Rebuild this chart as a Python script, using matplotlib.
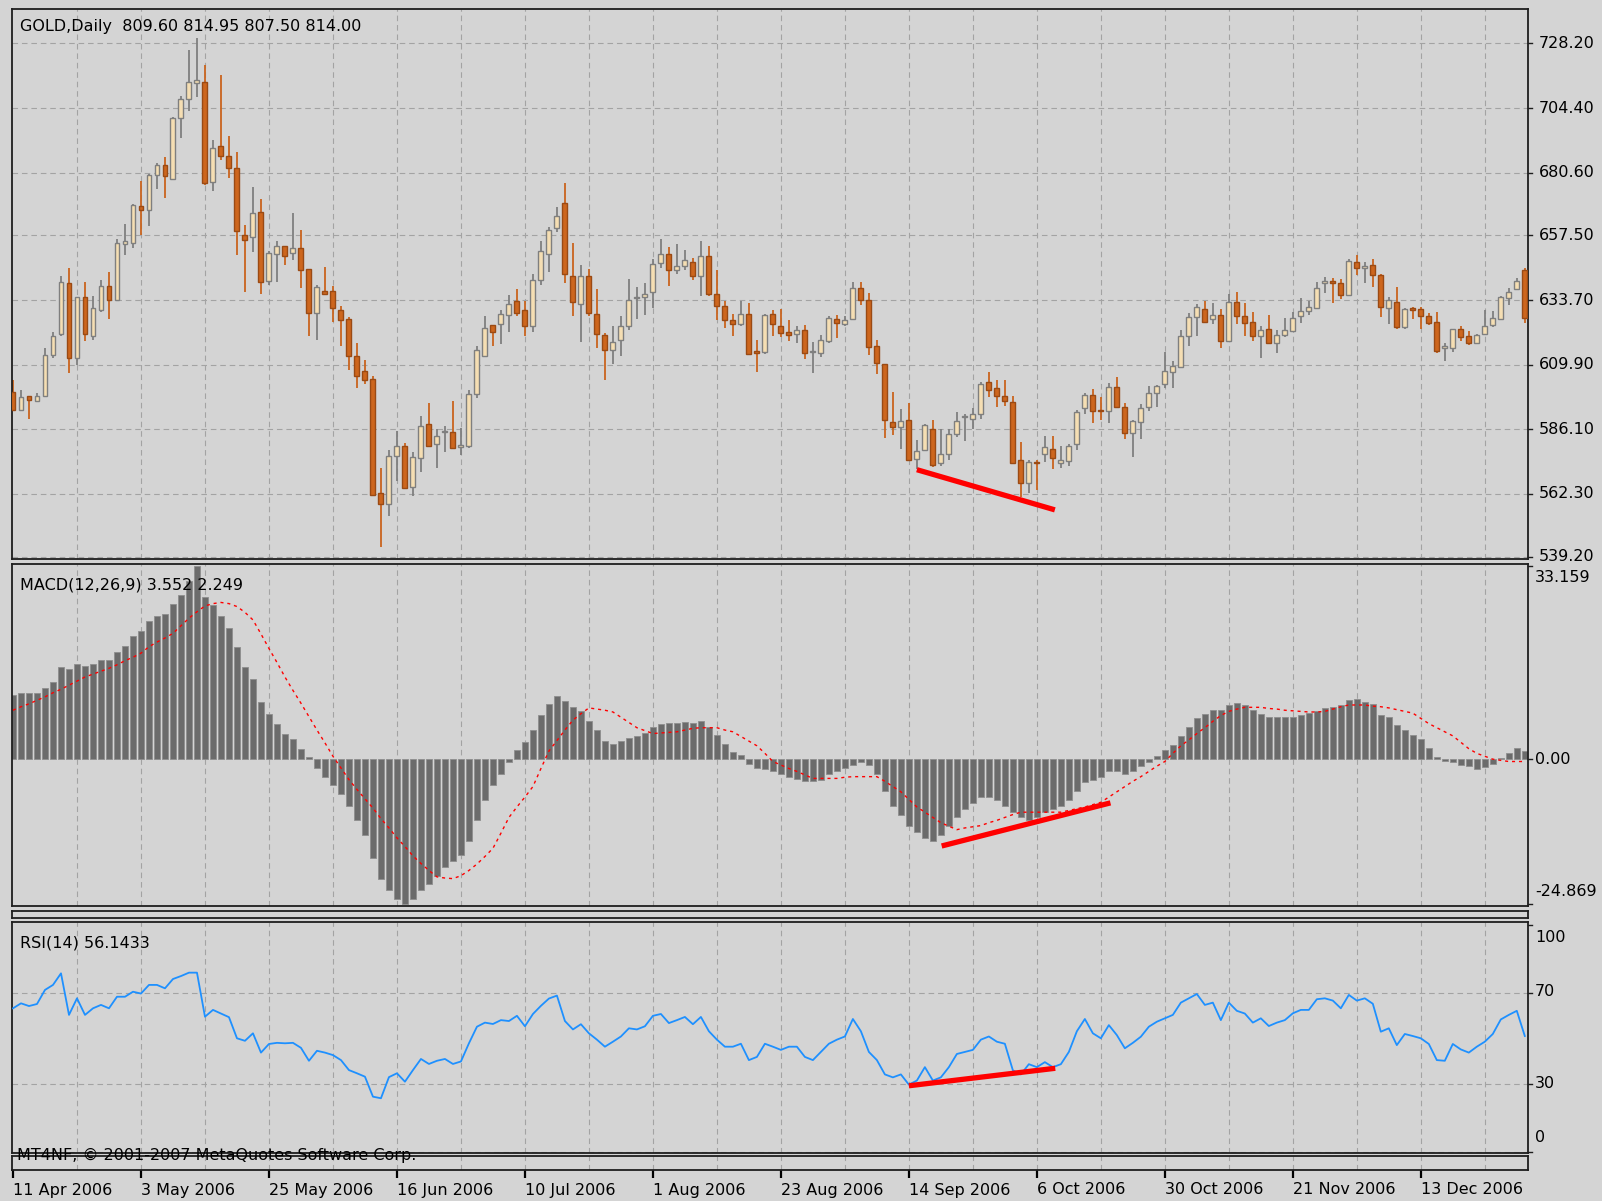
import matplotlib
matplotlib.use("Agg")
import matplotlib.pyplot as plt
from matplotlib.transforms import blended_transform_factory
import numpy as np

plt.rcParams["font.family"] = ["DejaVu Sans"]

# ---------------- data ----------------
opens = [599.9, 593.1, 598.3, 596.6, 598.3, 613.6, 621.1, 639.8, 612.4, 634.8,
         620.5, 630.1, 638.9, 633.6, 654.5, 654.7, 668.5, 666.8, 679.6, 683.4,
         678.4, 700.8, 707.7, 713.7, 714.1, 677.1, 690.5, 686.9, 682.4, 657.5,
         657.0, 666.2, 640.6, 650.7, 653.7, 651.0, 652.8, 645.1, 629.1, 636.9,
         636.9, 630.1, 626.7, 613.2, 607.4, 604.6, 562.6, 558.6, 576.3, 580.0,
         565.0, 575.5, 588.1, 580.6, 584.9, 585.1, 579.7, 579.8, 599.2, 613.2,
         624.4, 625.0, 628.1, 633.2, 630.1, 624.2, 641.2, 650.7, 660.2, 669.4,
         642.6, 632.3, 642.6, 628.6, 620.7, 615.4, 619.1, 624.2, 634.4, 634.9,
         636.5, 647.3, 650.7, 644.9, 646.3, 647.7, 642.6, 650.0, 636.0, 631.6,
         626.4, 625.0, 628.6, 614.8, 614.4, 628.6, 624.1, 622.0, 621.1, 622.6,
         614.5, 614.3, 618.7, 626.6, 624.9, 626.6, 638.0, 633.7, 616.7, 610.1,
         588.8, 587.0, 589.4, 575.2, 578.6, 586.3, 573.5, 577.0, 584.3, 590.5,
         590.0, 591.6, 603.5, 601.4, 598.3, 596.2, 574.7, 566.3, 574.1, 576.8,
         578.8, 573.7, 574.4, 580.7, 593.9, 598.8, 593.3, 592.7, 601.6, 594.3,
         584.6, 588.8, 594.3, 599.4, 602.7, 607.3, 609.2, 620.6, 627.3, 630.4,
         626.8, 628.3, 618.7, 633.1, 627.8, 625.6, 620.4, 623.2, 617.9, 620.9,
         622.4, 627.8, 629.8, 630.6, 639.9, 640.8, 639.9, 635.5, 647.8, 645.4,
         646.6, 642.9, 630.6, 633.1, 623.6, 630.6, 630.3, 627.8, 625.7, 615.9,
         615.9, 622.9, 620.4, 618.0, 621.1, 624.5, 626.6, 634.3, 637.6, 644.8]

highs = [604.3, 600.6, 598.3, 599.3, 616.1, 622.0, 642.5, 645.6, 634.8, 640.4,
         635.2, 641.0, 644.1, 656.0, 661.6, 669.0, 677.5, 680.3, 684.0, 686.2,
         701.1, 708.9, 725.9, 730.1, 720.1, 692.7, 716.6, 694.2, 688.3, 661.2,
         675.3, 670.9, 651.6, 655.5, 653.7, 665.7, 659.6, 645.1, 639.3, 645.7,
         639.0, 631.6, 627.3, 617.8, 611.7, 605.6, 572.0, 578.6, 585.3, 581.0,
         577.6, 591.1, 595.7, 586.2, 587.4, 596.4, 586.5, 600.7, 616.9, 627.7,
         624.4, 630.1, 635.4, 637.9, 633.2, 643.4, 655.3, 660.6, 667.9, 676.8,
         654.7, 646.5, 645.1, 637.7, 621.5, 624.3, 627.7, 641.4, 638.5, 639.9,
         648.8, 656.1, 653.2, 654.4, 652.2, 649.2, 655.3, 653.7, 644.9, 633.2,
         628.6, 633.2, 632.6, 619.1, 628.6, 629.9, 630.3, 626.3, 624.1, 624.5,
         618.3, 620.9, 627.8, 628.2, 627.8, 640.5, 640.5, 636.2, 618.9, 610.1,
         599.9, 593.7, 595.6, 582.0, 587.9, 589.4, 586.3, 586.3, 592.5, 591.6,
         594.1, 603.5, 607.2, 604.4, 604.4, 598.3, 581.4, 574.9, 574.6, 583.7,
         583.7, 580.1, 580.8, 593.3, 599.6, 600.9, 598.1, 603.1, 605.3, 595.8,
         589.5, 595.5, 601.9, 602.5, 614.5, 611.1, 622.7, 628.9, 632.3, 633.2,
         632.6, 630.4, 635.9, 636.8, 632.5, 629.3, 624.1, 628.2, 622.5, 627.2,
         629.4, 634.3, 633.5, 640.5, 642.1, 641.7, 641.3, 648.7, 650.3, 647.6,
         648.7, 643.3, 634.7, 638.4, 630.6, 631.2, 631.2, 629.0, 629.4, 617.9,
         623.2, 624.1, 622.4, 621.1, 630.0, 629.8, 635.2, 638.0, 641.7, 645.4]

lows = [593.1, 593.1, 590.0, 596.2, 598.3, 612.4, 620.5, 606.8, 609.9, 618.6,
        618.9, 629.2, 626.7, 633.6, 650.4, 652.9, 657.8, 661.0, 674.7, 671.3,
        677.8, 693.3, 703.5, 708.3, 676.1, 674.0, 685.2, 678.6, 650.4, 636.7,
        651.4, 635.9, 639.3, 640.2, 646.7, 648.5, 638.1, 620.3, 618.8, 635.6,
        625.5, 616.6, 608.0, 601.3, 602.7, 561.6, 542.9, 554.0, 566.9, 564.1,
        561.4, 570.2, 579.8, 571.8, 577.6, 578.8, 576.7, 579.2, 597.6, 612.9,
        616.6, 617.5, 621.9, 627.7, 620.3, 621.8, 639.3, 644.2, 658.6, 640.0,
        627.7, 618.1, 627.7, 616.0, 604.3, 610.1, 612.9, 622.8, 626.7, 628.3,
        630.7, 645.5, 638.7, 643.4, 644.9, 640.9, 635.0, 635.3, 626.4, 623.4,
        620.3, 624.0, 613.9, 607.0, 613.9, 620.3, 620.2, 618.7, 617.9, 611.8,
        606.9, 612.6, 618.0, 619.6, 624.1, 626.3, 631.9, 613.4, 606.4, 582.7,
        583.9, 579.0, 574.4, 571.6, 578.3, 572.2, 572.5, 574.6, 583.3, 581.8,
        586.3, 590.0, 597.9, 594.3, 594.6, 573.5, 561.1, 562.6, 563.6, 574.0,
        571.3, 571.8, 572.5, 578.6, 591.8, 588.3, 589.4, 588.3, 593.9, 582.4,
        575.9, 582.4, 592.7, 594.3, 601.2, 601.2, 608.6, 616.6, 620.6, 625.6,
        624.7, 616.0, 618.5, 624.9, 620.5, 618.6, 612.5, 617.7, 614.2, 620.1,
        622.0, 625.3, 628.2, 630.3, 636.4, 632.7, 633.9, 635.2, 642.9, 640.1,
        638.6, 627.3, 624.8, 622.9, 622.9, 626.6, 623.2, 624.5, 614.0, 611.3,
        614.6, 618.7, 617.1, 617.5, 620.8, 623.6, 626.3, 631.9, 637.4, 625.1]

closes = [593.1, 598.1, 596.8, 598.3, 613.6, 620.5, 640.4, 612.4, 634.8, 621.1,
          630.7, 638.9, 633.6, 654.7, 655.3, 668.7, 666.8, 679.6, 683.4, 679.4,
          700.8, 707.7, 714.1, 714.7, 676.9, 689.8, 686.9, 682.4, 659.3, 655.7,
          665.9, 640.4, 651.0, 653.7, 650.0, 652.8, 644.9, 629.1, 638.5, 636.0,
          630.7, 626.2, 612.9, 605.6, 604.1, 562.0, 558.5, 576.3, 580.0, 564.4,
          575.9, 587.4, 580.0, 583.7, 585.5, 579.2, 580.2, 599.2, 615.4, 623.4,
          621.8, 628.7, 632.2, 629.1, 624.2, 641.2, 651.6, 659.6, 664.7, 643.4,
          632.8, 642.6, 629.1, 621.3, 615.4, 618.1, 624.2, 633.8, 634.9, 636.0,
          647.1, 650.7, 644.9, 646.3, 648.5, 642.6, 650.0, 636.0, 631.6, 626.4,
          625.0, 628.6, 613.9, 614.3, 628.0, 625.0, 621.4, 620.8, 622.6, 614.3,
          614.7, 619.0, 626.9, 625.3, 626.3, 638.0, 633.7, 616.5, 610.6, 589.4,
          587.0, 589.2, 574.7, 578.2, 587.6, 572.8, 577.0, 584.3, 589.2, 590.9,
          591.6, 602.7, 600.7, 598.3, 596.6, 573.7, 566.3, 574.0, 573.6, 579.5,
          575.5, 574.6, 580.1, 592.5, 598.8, 592.7, 592.7, 601.6, 594.3, 584.6,
          589.1, 593.9, 599.4, 602.2, 607.6, 609.5, 620.6, 627.3, 631.0, 625.6,
          628.0, 618.5, 633.1, 627.8, 625.3, 620.4, 622.6, 617.9, 620.9, 622.5,
          626.9, 629.8, 631.0, 638.0, 640.8, 639.9, 635.5, 648.2, 645.4, 646.4,
          642.9, 631.2, 633.7, 623.6, 630.3, 630.0, 627.8, 625.3, 615.0, 616.6,
          622.9, 619.9, 618.0, 620.8, 624.1, 626.9, 634.7, 636.8, 640.8, 626.9]

macd_main = [11.0, 11.3, 11.3, 11.3, 12.3, 13.3, 15.8, 15.4, 16.4, 16.0,
             16.4, 17.1, 17.1, 18.4, 19.5, 21.2, 22.0, 23.7, 24.6, 25.0,
             26.7, 28.2, 30.5, 33.159, 27.8, 26.5, 24.6, 22.6, 19.2, 15.8,
             13.7, 9.8, 7.8, 6.1, 4.4, 3.4, 1.8, 0.3, -1.5, -3.0,
             -4.5, -6.0, -8.0, -10.5, -13.0, -17.0, -20.5, -22.5, -24.0, -24.869,
             -24.0, -22.5, -21.5, -20.0, -18.5, -17.5, -16.5, -14.0, -10.5, -7.0,
             -4.5, -2.5, -0.5, 1.5, 3.0, 5.0, 7.5, 9.5, 10.8, 10.0,
             9.0, 8.2, 6.5, 5.0, 3.2, 2.6, 3.2, 3.6, 4.0, 4.5,
             5.5, 6.0, 6.2, 6.2, 6.4, 6.2, 6.6, 5.5, 4.2, 2.6,
             1.3, 0.8, -0.8, -1.5, -1.6, -2.0, -2.6, -3.0, -3.4, -3.8,
             -3.8, -3.5, -2.5, -2.0, -1.5, -1.0, -0.5, -1.0, -2.5, -5.5,
             -8.0, -9.5, -11.5, -12.5, -13.5, -14.0, -13.0, -11.5, -10.0, -8.5,
             -7.5, -6.5, -6.5, -7.0, -8.0, -9.0, -10.0, -10.5, -10.0, -9.0,
             -8.5, -8.0, -7.0, -5.5, -4.0, -3.5, -3.0, -2.0, -2.0, -2.5,
             -2.0, -1.2, -0.5, 0.5, 1.5, 2.5, 4.0, 5.5, 7.0, 7.8,
             8.5, 8.5, 9.3, 9.6, 9.3, 8.5, 7.8, 7.3, 7.2, 7.3,
             7.3, 7.6, 8.0, 8.3, 8.7, 9.0, 9.3, 10.2, 10.3, 9.8,
             9.5, 7.6, 7.2, 5.8, 5.0, 4.2, 3.5, 2.0, 0.3, -0.3,
             -0.4, -1.0, -1.2, -1.6, -1.4, -0.9, 0.2, 1.0, 2.0, 1.4]

macd_signal = [8.4, 9.0, 9.5, 10.1, 10.7, 11.4, 12.0, 12.7, 13.4, 14.1,
               14.6, 15.1, 15.6, 16.2, 16.9, 17.5, 18.2, 19.3, 20.1, 20.8,
               21.6, 22.9, 24.2, 25.3, 26.3, 26.7, 26.9, 26.7, 26.2, 25.2,
               23.9, 21.5, 19.0, 16.6, 14.1, 11.8, 9.6, 7.3, 5.0, 2.8,
               0.5, -1.5, -3.5, -5.2, -6.8, -8.4, -10.2, -11.8, -13.5, -15.0,
               -16.6, -17.9, -19.1, -20.2, -20.4, -20.5, -20.0, -19.1, -18.0, -16.7,
               -15.3, -12.7, -10.0, -8.2, -6.5, -4.7, -1.6, 1.4, 3.2, 5.0,
               6.7, 7.8, 8.8, 8.6, 8.4, 8.1, 7.2, 6.3, 5.4, 4.9,
               4.4, 4.5, 4.6, 4.7, 5.0, 5.3, 5.4, 5.4, 5.4, 5.0,
               4.7, 3.9, 3.1, 2.3, 1.0, -0.4, -1.0, -1.6, -2.1, -2.7,
               -3.3, -3.3, -3.3, -3.3, -3.1, -3.0, -3.0, -3.0, -3.0, -3.8,
               -4.7, -5.6, -6.9, -8.2, -9.1, -10.0, -10.9, -11.5, -12.1, -11.8,
               -11.6, -11.4, -10.9, -10.5, -10.0, -9.5, -9.1, -9.1, -9.1, -9.1,
               -9.1, -9.1, -8.8, -8.5, -8.2, -7.8, -7.4, -6.5, -5.6, -4.7,
               -3.8, -3.0, -2.1, -1.2, -0.4, 1.0, 2.3, 3.3, 4.4, 5.4,
               6.5, 7.5, 8.2, 8.6, 8.9, 8.9, 8.9, 8.7, 8.6, 8.4,
               8.3, 8.2, 8.1, 8.1, 8.2, 8.6, 9.0, 9.3, 9.3, 9.3,
               9.1, 9.0, 8.8, 8.5, 8.2, 7.9, 7.0, 6.1, 5.4, 4.7,
               4.0, 2.9, 1.8, 1.0, 0.5, 0.0, -0.2, -0.4, -0.4, -0.4]

rsi_values = [63.3, 65.5, 64.3, 65.2, 71.4, 73.6, 78.7, 60.4, 67.7, 60.4,
              63.3, 64.8, 63.3, 68.4, 68.4, 70.6, 69.8, 73.6, 73.6, 72.1,
              76.2, 77.5, 79.0, 79.0, 59.6, 62.6, 61.0, 59.4, 50.1, 49.0,
              52.3, 43.8, 47.6, 48.1, 47.9, 48.1, 45.9, 40.2, 44.6, 43.8,
              42.7, 40.5, 36.1, 34.7, 33.2, 24.4, 23.7, 33.0, 34.7, 31.0,
              36.1, 41.0, 38.8, 40.2, 41.0, 38.8, 39.9, 47.9, 55.2, 57.0,
              56.4, 58.1, 57.7, 60.0, 55.4, 60.8, 64.4, 67.6, 68.9, 57.7,
              54.0, 56.3, 52.3, 49.5, 46.4, 48.6, 50.9, 54.5, 54.0, 55.4,
              60.0, 60.8, 56.8, 58.1, 59.5, 56.3, 59.5, 53.2, 49.5, 46.4,
              46.4, 47.7, 40.5, 41.9, 47.7, 46.4, 45.0, 46.4, 46.4, 41.9,
              40.5, 44.1, 47.7, 49.5, 50.9, 58.6, 53.2, 44.1, 40.5, 34.2,
              32.9, 34.2, 29.7, 31.5, 37.4, 31.5, 32.9, 37.4, 43.2, 44.1,
              45.0, 49.5, 50.9, 48.6, 47.7, 36.0, 34.2, 38.7, 37.4, 39.6,
              37.4, 38.7, 44.1, 53.2, 58.6, 52.3, 50.1, 55.9, 51.5, 45.7,
              48.1, 50.8, 55.2, 57.4, 58.9, 60.4, 65.8, 67.7, 69.6, 64.8,
              65.8, 58.1, 65.8, 62.2, 61.0, 57.0, 58.9, 55.5, 57.0, 58.1,
              61.1, 62.6, 62.6, 67.3, 67.7, 66.7, 63.3, 69.2, 66.7, 67.7,
              65.3, 53.0, 54.5, 47.1, 52.0, 51.1, 50.1, 47.6, 40.5, 40.2,
              47.6, 45.2, 43.8, 46.4, 48.6, 52.0, 58.4, 60.4, 62.2, 51.1]

date_labels = ["11 Apr 2006", "3 May 2006", "25 May 2006", "16 Jun 2006",
               "10 Jul 2006", "1 Aug 2006", "23 Aug 2006", "14 Sep 2006",
               "6 Oct 2006", "30 Oct 2006", "21 Nov 2006", "13 Dec 2006"]
date_label_step = 16          # bars between date labels
grid_step = 8                 # bars between vertical grid lines

price_ticks = [539.20, 562.30, 586.10, 609.90, 633.70, 657.50, 680.60, 704.40, 728.20]
macd_ticks = [33.159, 0.0, -24.869]
macd_tick_labels = ["33.159", "0.00", "-24.869"]
rsi_ticks = [100, 70, 30, 0]

# divergence trend lines (bar index, value)
price_trend = ([113.0, 130.25], [571.2, 556.4])
macd_trend = ([116.1, 137.2], [-14.9, -7.5])
rsi_trend = ([112.0, 130.3], [29.2, 36.9])

# ---------------- style ----------------
BG = "#D4D4D4"
FIG_BG = "#D4D4D4"
GRID = "#A3A3A3"
FRAME = "#1E1E1E"
BULL_FACE = "#F5DEB3"
BULL_EDGE = "#7F7F7F"
BEAR_FACE = "#CD661D"
BEAR_EDGE = "#9A4A14"
BEAR_WICK = "#C9641E"
FS = 11.5

W, H = 1602, 1201
fig = plt.figure(figsize=(W / 100, H / 100), dpi=100, facecolor=FIG_BG)


def rect(l, t, r, b):
    return [l / W, 1 - b / H, (r - l) / W, (b - t) / H]


n = len(closes)
x = np.arange(n)
XLIM = (-0.125, 189.4)

ax_p = fig.add_axes(rect(12, 9, 1528, 559))
ax_m = fig.add_axes(rect(12, 564, 1528, 906))
ax_gap = fig.add_axes(rect(12, 911, 1528, 918))
ax_r = fig.add_axes(rect(12, 922, 1528, 1153))
ax_d = fig.add_axes(rect(12, 1156, 1528, 1170))

grid_dash = (0, (5.0, 3.5))
for ax in (ax_p, ax_m, ax_gap, ax_r, ax_d):
    ax.set_facecolor(BG)
    ax.set_xlim(*XLIM)
    for sp in ax.spines.values():
        sp.set_color(FRAME)
        sp.set_linewidth(1.3)
    ax.tick_params(left=False, bottom=False, labelleft=False, labelbottom=False)
    ax.set_xticks([])
    ax.set_yticks([])
    if ax is not ax_gap:
        for g in range(grid_step, n, grid_step):
            ax.axvline(g, color=GRID, lw=0.8, ls=grid_dash, zorder=0.5)


def right_scale(ax, values, labels, y_px_centers, x_px=1535, tick_len=4):
    """Value labels on the right edge; label centres given in figure pixels."""
    tr = blended_transform_factory(ax.transAxes, ax.transData)
    for v in values:
        ax.plot([1.0, 1.0 + tick_len / 1516], [v, v], color=FRAME, lw=1.0,
                transform=tr, clip_on=False)
    for lab, yc in zip(labels, y_px_centers):
        fig.text(x_px / W, 1 - yc / H, lab, fontsize=FS, va="center",
                 ha="left", color="black")


# ---------------- price panel ----------------
P_LO, P_HI = 538.3, 740.9
ax_p.set_ylim(P_LO, P_HI)
for v in price_ticks:
    ax_p.axhline(v, color=GRID, lw=0.8, ls=grid_dash, zorder=0.5)

o = np.array(opens)
h = np.array(highs)
l = np.array(lows)
c = np.array(closes)
bull = c >= o
body_lo = np.minimum(o, c)
body_h = np.maximum(np.abs(c - o), 0.35)

ax_p.vlines(x[bull], l[bull], h[bull], color=BULL_EDGE, lw=1.3, zorder=2)
ax_p.vlines(x[~bull], l[~bull], h[~bull], color=BEAR_WICK, lw=1.3, zorder=2)
ax_p.bar(x[bull], body_h[bull], bottom=body_lo[bull], width=0.62,
         color=BULL_FACE, edgecolor=BULL_EDGE, linewidth=1.0, zorder=3)
ax_p.bar(x[~bull], body_h[~bull], bottom=body_lo[~bull], width=0.62,
         color=BEAR_FACE, edgecolor=BEAR_EDGE, linewidth=1.0, zorder=3)
ax_p.plot(*price_trend, color="#FF0000", lw=3.8, solid_capstyle="butt", zorder=4)

p_top, p_bot = 9, 559
price_px = [p_bot - (v - P_LO) / (P_HI - P_LO) * (p_bot - p_top) for v in price_ticks]
right_scale(ax_p, price_ticks, [f"{v:.2f}" for v in price_ticks], price_px, x_px=1539)

fig.text(20 / W, 1 - 26 / H, "GOLD,Daily  809.60 814.95 807.50 814.00",
         fontsize=FS, va="center", ha="left", color="black")

# ---------------- MACD panel ----------------
ax_m.set_ylim(-25.2, 33.5)
ax_m.bar(x, macd_main, width=0.72, color="#6B6B6B", edgecolor="#8E8E8E",
         linewidth=0.6, zorder=2)
ax_m.plot(x, macd_signal, color="#FF0000", lw=1.0, ls=(0, (2.2, 2.8)), zorder=3)
ax_m.plot(*macd_trend, color="#FF0000", lw=3.8, solid_capstyle="butt", zorder=4)
right_scale(ax_m, macd_ticks, macd_tick_labels, [578, 759, 892])

fig.text(20 / W, 1 - 585 / H, "MACD(12,26,9) 3.552 2.249",
         fontsize=FS, va="center", ha="left", color="black")

# ---------------- RSI panel ----------------
ax_r.set_ylim(-0.4, 101.3)
for v in (0, 30, 70):
    ax_r.axhline(v, color=GRID, lw=0.8, ls=grid_dash, zorder=0.5)
ax_r.plot(x, rsi_values, color="#1E90FF", lw=1.3, zorder=3)
ax_r.plot(*rsi_trend, color="#FF0000", lw=3.8, solid_capstyle="butt", zorder=4)
right_scale(ax_r, rsi_ticks, [str(v) for v in rsi_ticks], [937, 991, 1083, 1138])

fig.text(20 / W, 1 - 943 / H, "RSI(14) 56.1433",
         fontsize=FS, va="center", ha="left", color="black")

fig.text(17 / W, 1 - 1155 / H, "MT4NF, \u00a9 2001-2007 MetaQuotes Software Corp.",
         fontsize=FS, va="center", ha="left", color="black")

# ---------------- date axis ----------------
date_pos = [i * date_label_step for i in range(len(date_labels))]
ax_d.set_xticks(date_pos)
ax_d.set_xticklabels(date_labels)
ax_d.tick_params(axis="x", bottom=True, labelbottom=True, length=6, width=1.6,
                 direction="out", pad=3, labelsize=FS, colors="black")
for lbl in ax_d.get_xticklabels():
    lbl.set_ha("left")

fig.savefig("out.png", dpi=100, facecolor=FIG_BG)
